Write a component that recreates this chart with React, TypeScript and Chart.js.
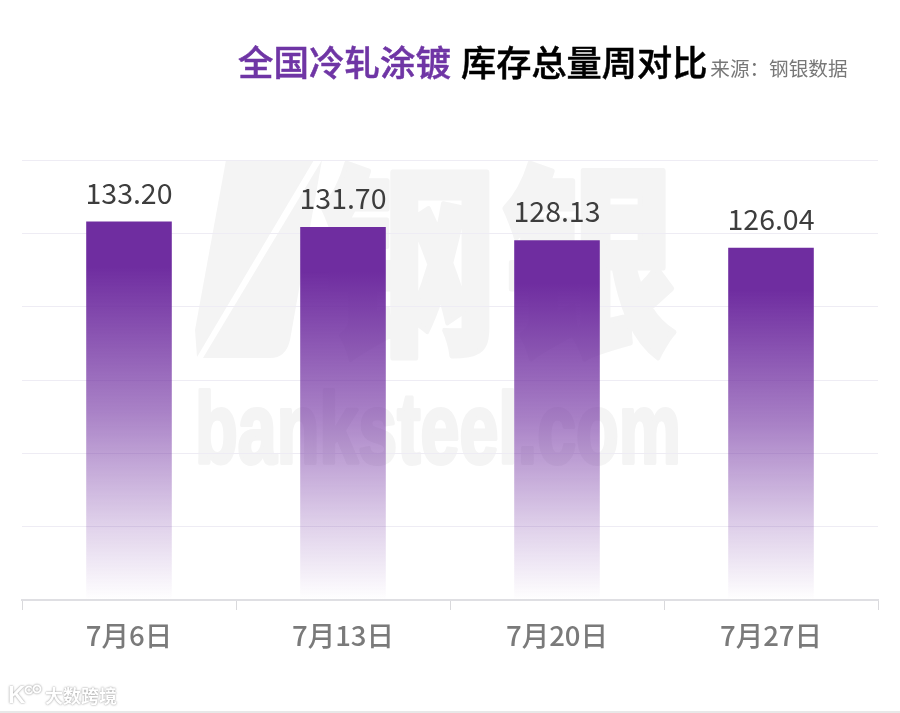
import React, { useEffect, useRef } from "react";
import { Chart, registerables } from "chart.js";

Chart.register(...registerables);

const categories = ["7月6日", "7月13日", "7月20日", "7月27日"];
const inventory = [133.2, 131.7, 128.13, 126.04];
const yMin = 30;
const yMax = 150;
const yStep = 20;

const CJK = '"Noto Sans CJK SC", "Noto Sans", sans-serif';
const PURPLE = "#6f2da0";

const watermark = {
  id: "watermark",
  beforeDraw(chart: any) {
    const c = chart.ctx as CanvasRenderingContext2D;
    c.save();
    c.fillStyle = "#f4f4f4";
    c.strokeStyle = "#f4f4f4";
    c.beginPath();
    c.moveTo(226, 160);
    c.lineTo(314, 160);
    c.lineTo(197, 357);
    c.lineTo(195, 330);
    c.closePath();
    c.fill();
    c.beginPath();
    c.moveTo(322, 160);
    c.lineTo(290, 340);
    c.quadraticCurveTo(286, 358, 270, 358);
    c.lineTo(203, 358);
    c.closePath();
    c.fill();
    c.font = `900 205px ${CJK}`;
    c.lineJoin = "round";
    c.lineWidth = 5;
    c.textBaseline = "alphabetic";
    c.textAlign = "left";
    c.fillText("钢", 320, 338, 176);
    c.strokeText("钢", 320, 338, 176);
    c.fillText("银", 500, 338, 178);
    c.strokeText("银", 500, 338, 178);
    c.font = 'bold 100px "Liberation Sans", sans-serif';
    c.lineWidth = 4;
    c.fillText("banksteel.com", 195, 463, 486);
    c.strokeText("banksteel.com", 195, 463, 486);
    c.restore();
  },
};

const valueLabels = {
  id: "valueLabels",
  afterDatasetsDraw(chart: any) {
    const c = chart.ctx as CanvasRenderingContext2D;
    c.save();
    c.font = `400 28.5px ${CJK}`;
    c.fillStyle = "#3d3d3d";
    c.textAlign = "center";
    c.textBaseline = "alphabetic";
    chart.getDatasetMeta(0).data.forEach((el: any, i: number) => {
      c.fillText(inventory[i].toFixed(2), el.x, el.y - 18);
    });
    c.restore();
  },
};

const cornerLogo = {
  id: "cornerLogo",
  afterDraw(chart: any) {
    const c = chart.ctx as CanvasRenderingContext2D;
    c.save();
    c.shadowColor = "rgba(90,90,90,0.75)";
    c.shadowBlur = 2;
    c.fillStyle = "#ffffff";
    c.strokeStyle = "#ffffff";
    c.font = `700 18px ${CJK}`;
    c.textBaseline = "middle";
    c.fillText("大数跨境", 45, 696);
    c.font = 'bold 24px "Liberation Sans", sans-serif';
    c.fillText("K", 8, 696);
    c.lineWidth = 2;
    [[29, 690, 3.5], [37, 689, 3.5]].forEach(([x, y, r]) => {
      c.beginPath();
      c.arc(x, y, r, 0, Math.PI * 2);
      c.stroke();
    });
    c.restore();
    c.save();
    c.fillStyle = "#e8e8e8";
    c.fillRect(0, 711, 900, 2);
    c.restore();
  },
};

export default function App() {
  const ref = useRef<HTMLCanvasElement>(null);

  useEffect(() => {
    document.body.style.margin = "0";
    const chart = new Chart(ref.current!, {
      type: "bar",
      data: {
        labels: categories,
        datasets: [
          {
            data: inventory,
            barPercentage: 0.4,
            categoryPercentage: 1,
            backgroundColor: (ctx: any) => {
              const { chart: ch, parsed } = ctx;
              if (!ch.chartArea || !parsed) return PURPLE;
              const top = ch.scales.y.getPixelForValue(parsed.y);
              const g = ch.ctx.createLinearGradient(0, top, 0, ch.chartArea.bottom);
              g.addColorStop(0, PURPLE);
              g.addColorStop(0.12, PURPLE);
              g.addColorStop(0.5, "rgba(111,45,160,0.6)");
              g.addColorStop(0.8, "rgba(111,45,160,0.22)");
              g.addColorStop(1, "rgba(111,45,160,0)");
              return g;
            },
          },
        ],
      },
      options: {
        animation: false,
        responsive: false,
        devicePixelRatio: 1,
        layout: { padding: { left: 22, right: 22, top: 160, bottom: 0 } },
        plugins: { legend: { display: false }, tooltip: { enabled: false } },
        scales: {
          x: {
            afterFit: (s: any) => {
              s.height = 113;
            },
            border: { color: "#dfdfe3", width: 2 },
            grid: { drawOnChartArea: false, drawTicks: true, tickLength: 10, color: "#d9d9dc", tickWidth: 1 },
            ticks: { color: "#7a7a7a", padding: 9, maxRotation: 0, font: { family: CJK, size: 27.5, weight: 500 } },
          },
          y: {
            min: yMin,
            max: yMax,
            ticks: { stepSize: yStep, display: false },
            border: { display: false },
            grid: { color: "#eeecf4", drawTicks: false },
          },
        },
      } as any,
      plugins: [watermark, valueLabels, cornerLogo],
    });
    return () => chart.destroy();
  }, []);

  return (
    <div style={{ position: "fixed", left: 0, top: 0, width: 900, height: 713, background: "#fff", overflow: "hidden" }}>
      <canvas ref={ref} width={900} height={713} style={{ display: "block" }} />
      <div style={{ position: "absolute", left: 238, top: 36, whiteSpace: "nowrap", fontFamily: CJK, lineHeight: "50px" }}>
        <span style={{ fontSize: 35.5, fontWeight: 500, color: "#6f35a5", WebkitTextStroke: "0.5px #6f35a5" }}>全国冷轧涂镀</span>
        <span style={{ fontSize: 35.2, fontWeight: 500, color: "#000", marginLeft: 10, WebkitTextStroke: "0.5px #000" }}>库存总量周对比</span>
        <span style={{ fontSize: 19.6, color: "#777", marginLeft: 3 }}>来源：钢银数据</span>
      </div>
    </div>
  );
}
